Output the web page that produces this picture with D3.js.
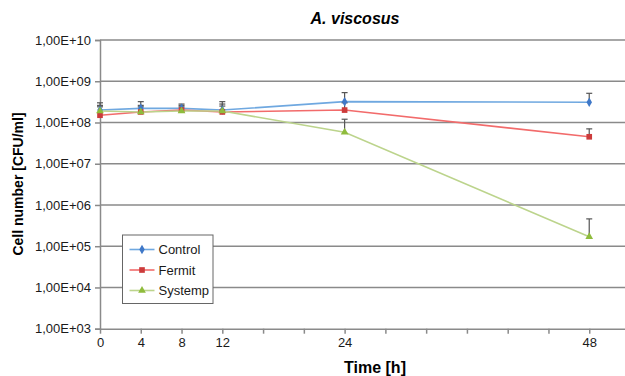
<!DOCTYPE html>
<html>
<head>
<meta charset="utf-8">
<script src="https://cdn.jsdelivr.net/npm/d3@7"></script>
<style>
  body { margin: 0; background: #fff; }
  text { font-family: "Liberation Sans", Arial, sans-serif; }
</style>
</head>
<body>
<div id="chart"></div>
<script>
// time points [h]
const hours = [0, 4, 8, 12, 24, 48];
const labelledHours = [0, 4, 8, 12, 24, 48];
const minorHours = [0, 4, 8, 12, 16, 20, 24, 28, 32, 36, 40, 44, 48, 52];
const yTicks = [1e3, 1e4, 1e5, 1e6, 1e7, 1e8, 1e9, 1e10];

// CFU/ml
const control = [2.0e8, 2.2e8, 2.2e8, 2.0e8, 3.2e8, 3.1e8];
const controlHi = [3.0e8, 3.2e8, 2.8e8, 3.2e8, 5.3e8, 5.1e8];
const fermit = [1.5e8, 1.8e8, 2.0e8, 1.8e8, 2.0e8, 4.5e7];
const fermitHi = [2.6e8, 2.6e8, 2.6e8, 2.8e8, 3.0e8, 7.0e7];
const systemp = [1.9e8, 1.8e8, 1.9e8, 1.9e8, 5.8e7, 1.7e5];
const systempHi = [2.4e8, 2.4e8, 2.4e8, 2.5e8, 1.2e8, 4.6e5];

const series = [
  { name: 'Control', vals: control, hi: controlHi, line: '#6fa8e0', mark: '#3f78c8', shape: d3.symbolDiamond, size: 26 },
  { name: 'Fermit', vals: fermit, hi: fermitHi, line: '#f26b6b', mark: '#cc3b3b', shape: d3.symbolSquare, size: 32 },
  { name: 'Systemp', vals: systemp, hi: systempHi, line: '#bcd48c', mark: '#8fbc3c', shape: d3.symbolTriangle, size: 26 }
];

const width = 625, height = 376;
const plotL = 100, plotR = 630, plotT = 40, plotB = 328.7;

const svg = d3.select('#chart').append('svg')
  .attr('width', width)
  .attr('height', height);

const x = d3.scaleLinear().domain([0, 52]).range([plotL, plotR]);
const y = d3.scaleLog().domain([1e3, 1e10]).range([plotB, plotT]);

const fmt = v => '1,00E+' + String(Math.round(Math.log10(v))).padStart(2, '0');

// horizontal grid
svg.append('g')
  .selectAll('line')
  .data(yTicks.slice(1))
  .join('line')
  .attr('x1', plotL).attr('x2', plotR)
  .attr('y1', d => y(d)).attr('y2', d => y(d))
  .attr('stroke', '#8a8a8a')
  .attr('stroke-width', 1.5);

// y axis
const yAxis = svg.append('g')
  .attr('transform', `translate(${plotL},0)`)
  .call(d3.axisLeft(y).tickValues(yTicks).tickFormat(fmt).tickSize(5).tickPadding(4));
yAxis.select('.domain').attr('stroke', '#8a8a8a').attr('stroke-width', 1.5);
yAxis.selectAll('.tick line').attr('stroke', '#8a8a8a').attr('stroke-width', 1.5);
yAxis.selectAll('.tick text').attr('font-size', 13).attr('fill', '#1a1a1a');

// x axis
const xAxis = svg.append('g')
  .attr('transform', `translate(0,${plotB})`)
  .call(d3.axisBottom(x).tickValues(minorHours)
    .tickFormat(d => labelledHours.includes(d) ? d : '')
    .tickSize(5).tickSizeOuter(0).tickPadding(4));
xAxis.select('.domain').attr('stroke', '#8a8a8a').attr('stroke-width', 1.5);
xAxis.selectAll('.tick line').attr('stroke', '#8a8a8a').attr('stroke-width', 1.5);
xAxis.selectAll('.tick text').attr('font-size', 13).attr('fill', '#1a1a1a');

// lines
const line = d3.line().x((d, i) => x(hours[i])).y(d => y(d));
series.forEach(s => {
  svg.append('path')
    .datum(s.vals)
    .attr('fill', 'none')
    .attr('stroke', s.line)
    .attr('stroke-width', 1.6)
    .attr('d', line);
});

// error bars (upper)
series.forEach(s => {
  const g = svg.append('g').attr('stroke', '#555').attr('stroke-width', 1.2);
  g.selectAll('line.v')
    .data(s.vals)
    .join('line')
    .attr('x1', (d, i) => x(hours[i])).attr('x2', (d, i) => x(hours[i]))
    .attr('y1', d => y(d)).attr('y2', (d, i) => y(s.hi[i]));
  g.selectAll('line.c')
    .data(s.hi)
    .join('line')
    .attr('x1', (d, i) => x(hours[i]) - 3).attr('x2', (d, i) => x(hours[i]) + 3)
    .attr('y1', d => y(d)).attr('y2', d => y(d));
});

// markers
series.forEach(s => {
  svg.append('g')
    .selectAll('path')
    .data(s.vals)
    .join('path')
    .attr('transform', (d, i) => `translate(${x(hours[i])},${y(d)})`)
    .attr('d', d3.symbol().type(s.shape).size(s.size))
    .attr('fill', s.mark);
});

// title and axis labels
svg.append('text')
  .attr('x', 355).attr('y', 24)
  .attr('text-anchor', 'middle')
  .attr('font-size', 16).attr('font-weight', 'bold').attr('font-style', 'italic')
  .text('A. viscosus');

svg.append('text')
  .attr('x', 375).attr('y', 373)
  .attr('text-anchor', 'middle')
  .attr('font-size', 16).attr('font-weight', 'bold')
  .text('Time [h]');

svg.append('text')
  .attr('transform', 'translate(23,184) rotate(-90)')
  .attr('text-anchor', 'middle')
  .attr('font-size', 14).attr('font-weight', 'bold')
  .text('Cell number [CFU/ml]');

// legend
const lg = svg.append('g').attr('transform', 'translate(122.5,235)');
lg.append('rect')
  .attr('width', 90.5).attr('height', 68.5)
  .attr('fill', '#fff')
  .attr('stroke', '#666').attr('stroke-width', 1);
series.forEach((s, i) => {
  const yy = 14.5 + i * 20.5;
  lg.append('line')
    .attr('x1', 7).attr('x2', 32).attr('y1', yy).attr('y2', yy)
    .attr('stroke', s.line).attr('stroke-width', 1.6);
  lg.append('path')
    .attr('transform', `translate(19.5,${yy})`)
    .attr('d', d3.symbol().type(s.shape).size(s.size))
    .attr('fill', s.mark);
  lg.append('text')
    .attr('x', 36).attr('y', yy + 4.5)
    .attr('font-size', 13).attr('fill', '#1a1a1a')
    .text(s.name);
});
</script>
</body>
</html>
